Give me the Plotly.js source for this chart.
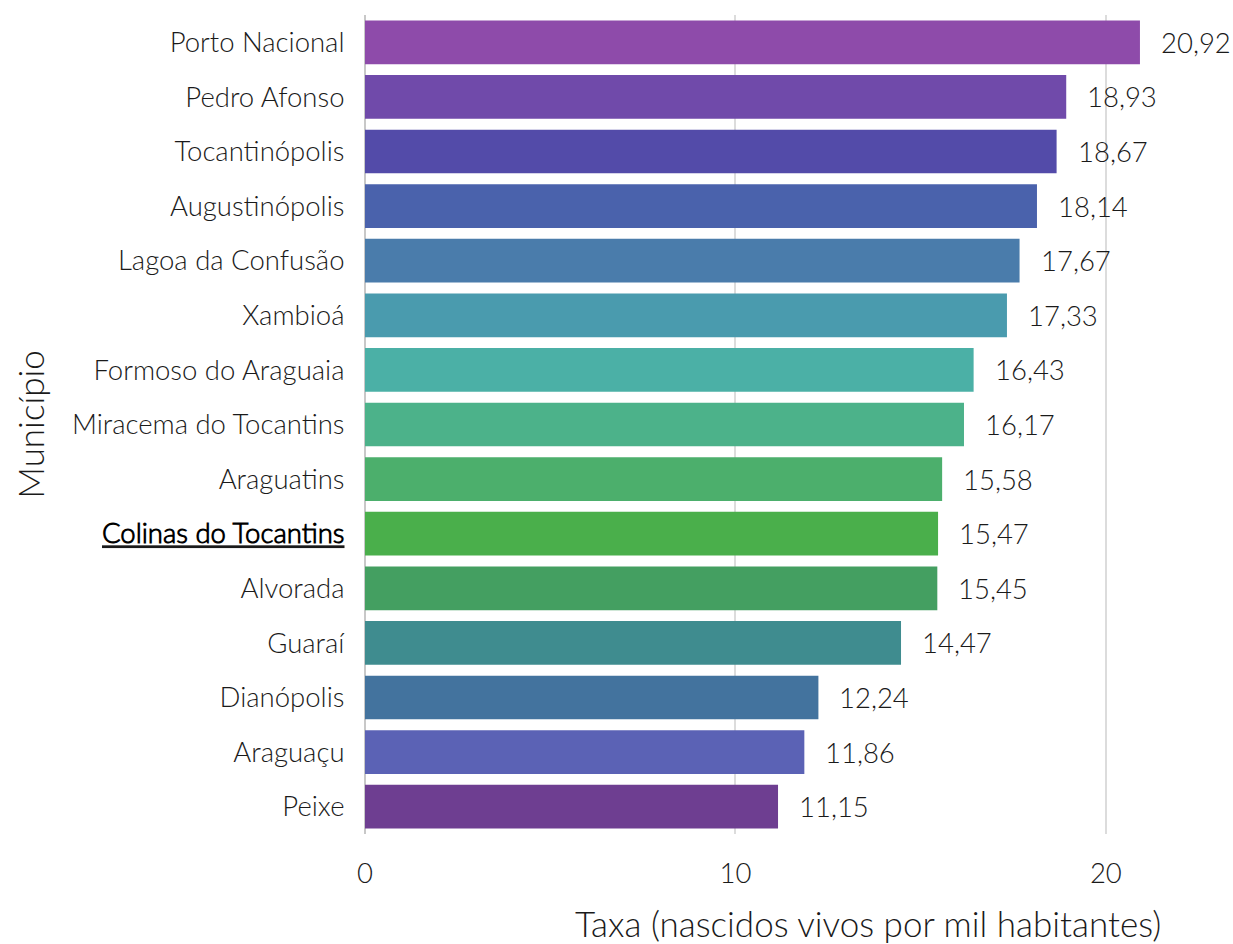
<!DOCTYPE html>
<html>
<head>
<meta charset="utf-8">
<script src="https://cdn.plot.ly/plotly-3.0.1.min.js"></script>
<style>html,body{margin:0;padding:0;background:#fff;}#chart{width:1233px;height:944px;}</style>
</head>
<body>
<div id="chart"></div>
<script>
const municipios = ["Porto Nacional","Pedro Afonso","Tocantinópolis","Augustinópolis","Lagoa da Confusão","Xambioá","Formoso do Araguaia","Miracema do Tocantins","Araguatins","Colinas do Tocantins","Alvorada","Guaraí","Dianópolis","Araguaçu","Peixe"];
const taxas = [20.92,18.93,18.67,18.14,17.67,17.33,16.43,16.17,15.58,15.47,15.45,14.47,12.24,11.86,11.15];
const cores = ["#8E4BAA","#704AAA","#534BA9","#4A62AC","#4A7CAB","#4A9BAE","#4BB0A6","#4CB28A","#4CAF6C","#4AAF4B","#449F61","#3F8C8F","#43739E","#5B62B5","#6E3E91"];
const destaque = "Colinas do Tocantins";
const xTicks = [0,10,20];
const xTitle = "Taxa (nascidos vivos por mil habitantes)";
const yTitle = "Município";

const fontFam = "'Lato Light', Lato, 'Open Sans', sans-serif";
const ticktext = municipios.map(m => m === destaque ? "<b><u><span style='color:#000'>" + m + "</span></u></b>" : m);

const trace = {
  type: "bar",
  orientation: "h",
  x: taxas,
  y: municipios,
  marker: {color: cores},
  width: 0.8,
  hoverinfo: "x+y"
};

const annotations = municipios.map((m, i) => ({
  x: taxas[i], y: m, xref: "x", yref: "y",
  text: taxas[i].toFixed(2).replace(".", ","),
  showarrow: false, xanchor: "left", yanchor: "middle", xshift: 19,
  font: {family: fontFam, size: 27.5, color: "#1a1a1a", weight: 300}
}));
annotations.push({
  text: xTitle, xref: "paper", yref: "paper", x: 0.59, y: -0.109,
  xanchor: "center", yanchor: "middle", showarrow: false,
  font: {family: fontFam, size: 35, color: "#1a1a1a", weight: 300}
});

const layout = {
  width: 1233, height: 944,
  margin: {l: 365, r: 16, t: 15, b: 110},
  paper_bgcolor: "#fff", plot_bgcolor: "#fff",
  font: {family: fontFam, size: 27.5, color: "#1a1a1a", weight: 300},
  separators: ",.",
  showlegend: false,
  xaxis: {
    range: [0, 23],
    tickvals: xTicks,
    showgrid: true, gridcolor: "#dcdcdc", gridwidth: 2,
    zeroline: true, zerolinecolor: "#c8c8c8", zerolinewidth: 2,
    ticks: "outside", ticklen: 15, tickcolor: "rgba(0,0,0,0)",
    tickfont: {family: fontFam, size: 27.5, color: "#1a1a1a", weight: 300},
    fixedrange: true
  },
  yaxis: {
    type: "category",
    categoryorder: "array", categoryarray: municipios,
    autorange: "reversed",
    tickvals: municipios, ticktext: ticktext,
    showgrid: false, zeroline: false, showline: false,
    ticks: "outside", ticklen: 14, tickcolor: "rgba(0,0,0,0)",
    tickfont: {family: fontFam, size: 27.5, color: "#1a1a1a", weight: 300},
    title: {text: yTitle, font: {family: fontFam, size: 35, color: "#1a1a1a", weight: 300}, standoff: 16},
    fixedrange: true
  },
  annotations: annotations
};

Plotly.newPlot("chart", [trace], layout, {displayModeBar: false, staticPlot: true});
</script>
</body>
</html>
